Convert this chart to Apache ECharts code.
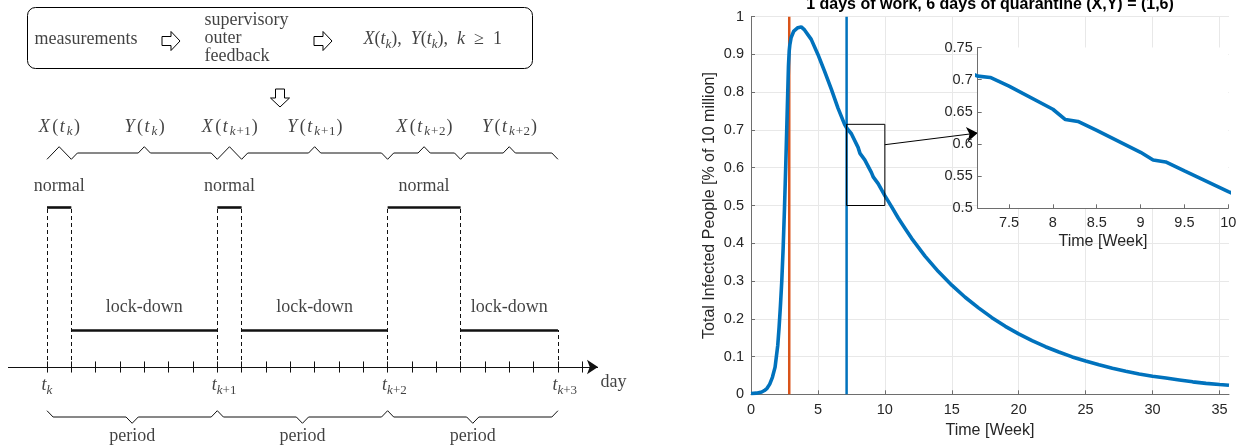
<!DOCTYPE html>
<html><head><meta charset="utf-8">
<script src="https://cdn.jsdelivr.net/npm/echarts@6/dist/echarts.min.js"></script>
<style>html,body{margin:0;padding:0;background:#fff}#c{width:1238px;height:447px}</style>
</head><body><div id="c"></div>
<script>
// ================= DATA =================
// Right panel: simulated total infected people
const WEEKS = [0,0.4,0.8,1.0,1.2,1.4,1.6,1.8,2.0,2.1,2.2,2.3,2.4,2.5,2.6,2.7,2.8,2.857,2.9,3.0,3.2,3.5,3.75,4.0,4.5,5.0,5.5,6.0,6.5,7.0,
  7.143,7.286,7.5,8.0,8.143,8.286,8.5,9.0,9.143,9.286,9.5,10.0,10.5,11,11.5,12,13,14,15,16,17,18,19,20,21,22,23,24,25,26,27,28,29,30,31,32,33,34,35,35.714];
const INFECTED = [0.002,0.003,0.006,0.010,0.016,0.027,0.045,0.072,0.130,0.178,0.235,0.300,0.385,0.490,0.610,0.740,0.870,0.910,0.925,0.945,0.962,0.971,0.973,0.965,0.940,0.900,0.855,0.808,0.758,0.714,
  0.7055,0.7034,0.690,0.654,0.638,0.635,0.621,0.587,0.575,0.572,0.558,0.526,0.497,0.467,0.440,0.413,0.366,0.325,0.289,0.257,0.229,0.203,0.180,0.160,0.142,0.126,0.112,0.099,0.088,0.078,0.069,0.061,0.054,0.048,0.043,0.038,0.033,0.029,0.026,0.024];
const POLICY_START_WEEK = 2.857;   // orange line
const ZOOM_START_WEEK = 7.143;     // blue line
const X_TICKS = [0,5,10,15,20,25,30,35];
const INSET_X_TICKS = [7.5,8,8.5,9,9.5,10];
const ZOOM_BOX_X = [7.143,10];
const ZOOM_BOX_Y = [0.5,0.715];
const ARROW_FROM = [10,0.661];
const ARROW_TO = [16.94,0.692];
const TITLE = '1 days of work, 6 days of quarantine (X,Y) = (1,6)';

// Left panel: schedule diagram (days)
const PHASE_NAMES = ['normal','lock-down','normal','lock-down','normal','lock-down'];
const PHASE_START = [0,1,7,8,14,17];
const PHASE_END = [1,7,8,14,17,21];
const PHASE_SYMBOLS = ['X(t_k)','Y(t_k)','X(t_{k+1})','Y(t_{k+1})','X(t_{k+2})','Y(t_{k+2})'];
const PERIOD_START = [0,7,14];
const PERIOD_END = [7,14,21];
const PERIOD_LABEL = 'period';
const T_DAYS = [0,7,14,21];
const T_LABELS = ['t_k','t_{k+1}','t_{k+2}','t_{k+3}'];
const DAY_TICKS = [0,1,2,3,4,5,6,7,8,9,10,11,12,13,14,15,16,17,18,19,20,21,22];
const AXIS_LABEL = 'day';
const BOX_TEXTS = ['measurements','supervisory\nouter\nfeedback','X(t_k),\u2002Y(t_k),\u2002k\u2002≥\u20021'];

// ================= DRAWING =================
const SERIF = '"Liberation Serif","Times New Roman",serif';
const SANS = '"Liberation Sans",Arial,Helvetica,sans-serif';
const INK = '#111';
const base = {fontFamily:SERIF,color:INK};
const RICH = {
  it:Object.assign({fontStyle:'italic',fontSize:18,lineHeight:23,verticalAlign:'middle'},base),
  rm:Object.assign({fontSize:18,lineHeight:23,verticalAlign:'middle'},base),
  si:Object.assign({fontStyle:'italic',fontSize:13,lineHeight:13,verticalAlign:'bottom'},base),
  sr:Object.assign({fontSize:13,lineHeight:13,verticalAlign:'bottom'},base),
  itp:Object.assign({fontStyle:'italic',fontSize:18,lineHeight:23,verticalAlign:'middle',padding:[0,2,0,1]},base),
  rmp:Object.assign({fontSize:18,lineHeight:23,verticalAlign:'middle',padding:[0,0.5,0,0.5]},base),
  sip:Object.assign({fontStyle:'italic',fontSize:13,lineHeight:13,verticalAlign:'bottom',padding:[0,1,0,0]},base),
  srp:Object.assign({fontSize:13,lineHeight:13,verticalAlign:'bottom',padding:[0,0.5,0,0]},base),
  w:Object.assign({fontSize:18,lineHeight:18},base)
};
function mathRichP(s,padded){
  let out='',i=0;
  const p=padded?'p':'';
  const wrap=(st,t)=>'{'+st+p+'|'+t+'}';
  while(i<s.length){
    const ch=s[i];
    if(ch==='_'){
      let sub;
      if(s[i+1]==='{'){const j=s.indexOf('}',i);sub=s.slice(i+2,j);i=j+1;}
      else{sub=s[i+1];i+=2;}
      for(const c of sub) out+=wrap(/[a-z]/i.test(c)?'si':'sr',c);
    } else { out+=wrap(/[a-z]/i.test(ch)?'it':'rm',ch); i++; }
  }
  return out;
}
const mathRich = s => mathRichP(s,false);
const mathRichWide = s => mathRichP(s,true);
function plainRich(s){ return s.split('\n').map(l=>'{w|'+l+'}').join('\n'); }

// diagram coordinate system: day -> px 47+24.33*d ; level v -> px 367-37*v
const PX_DAY=24.33, X0=47, PX_V=37, Y0=367;
const NORMAL_V=(Y0-207.5)/PX_V, LOCK_V=1.0;
const vOf = py => (Y0-py)/PX_V;
const dOf = px => (px-X0)/PX_DAY;

function brace(d0,d1,b,dir){
  const h=0.17,e=Math.min(0.25,(d1-d0)/4),m=(d0+d1)/2;
  return [[d0,b-dir*h],[d0+e,b],[m-e,b],[m,b+dir*h],[m+e,b],[d1-e,b],[d1,b-dir*h]];
}
function labelSeries(xs,ys,texts,fmt,labelOpt){
  return {type:'scatter',xAxisIndex:0,yAxisIndex:0,symbolSize:1,silent:true,
    itemStyle:{color:'rgba(0,0,0,0)'},
    data:xs.map((x,i)=>[x,ys[i]]),
    label:Object.assign({show:true,position:'inside',formatter:p=>fmt(texts[p.dataIndex]),rich:RICH},labelOpt||{})};
}
const isNormal = n => n==='normal';
const levelOf = i => isNormal(PHASE_NAMES[i])?NORMAL_V:LOCK_V;
const mids = PHASE_START.map((s,i)=>(s+PHASE_END[i])/2);

// dashed boundaries
const dashed=[];
PHASE_NAMES.forEach((n,i)=>{ if(isNormal(n)){ dashed.push({coords:[[PHASE_START[i],0],[PHASE_START[i],NORMAL_V]]}); dashed.push({coords:[[PHASE_END[i],0],[PHASE_END[i],NORMAL_V]]}); }});
const last=PHASE_NAMES.length-1;
dashed.push({coords:[[PHASE_END[last],0],[PHASE_END[last],levelOf(last)]]});

const series=[
  {type:'lines',coordinateSystem:'cartesian2d',xAxisIndex:0,yAxisIndex:0,silent:true,
   data:[{coords:[[dOf(8),0],[dOf(598),0]]}],symbol:['none','arrow'],symbolSize:[7,11],
   lineStyle:{color:INK,width:1,opacity:1}},
  {type:'lines',coordinateSystem:'cartesian2d',xAxisIndex:0,yAxisIndex:0,silent:true,
   data:DAY_TICKS.map(d=>({coords:[[d,-0.15],[d,0.15]]})),lineStyle:{color:INK,width:1,opacity:1}},
  {type:'lines',coordinateSystem:'cartesian2d',xAxisIndex:0,yAxisIndex:0,silent:true,
   data:dashed,lineStyle:{color:INK,width:1,type:[4,3],opacity:1}},
  {type:'lines',coordinateSystem:'cartesian2d',xAxisIndex:0,yAxisIndex:0,silent:true,
   data:PHASE_NAMES.map((n,i)=>({coords:[[PHASE_START[i],levelOf(i)],[PHASE_END[i],levelOf(i)]]})),
   lineStyle:{color:INK,width:2.6,opacity:1}},
  {type:'lines',coordinateSystem:'cartesian2d',xAxisIndex:0,yAxisIndex:0,silent:true,polyline:true,
   data:PHASE_START.map((s,i)=>({coords:brace(s,PHASE_END[i],vOf(153),1)}))
     .concat(PERIOD_START.map((s,i)=>({coords:brace(s,PERIOD_END[i],vOf(417),-1)}))),
   lineStyle:{color:INK,width:1,opacity:1}},
  labelSeries(mids,PHASE_NAMES.map(n=>isNormal(n)?vOf(186):vOf(307)),PHASE_NAMES,plainRich),
  labelSeries(mids,mids.map(()=>vOf(127)),PHASE_SYMBOLS,mathRichWide),
  labelSeries(T_DAYS,T_DAYS.map(()=>vOf(386)),T_LABELS,mathRich,{position:[-5,0],align:'left',verticalAlign:'middle'}),
  labelSeries(PERIOD_START.map((s,i)=>(s+PERIOD_END[i])/2),PERIOD_START.map(()=>vOf(436)),PERIOD_START.map(()=>PERIOD_LABEL),plainRich),
  labelSeries([dOf(601)],[vOf(383)],[AXIS_LABEL],plainRich,{position:[0,0],align:'left',verticalAlign:'middle'}),
  labelSeries([dOf(35),dOf(205)],[vOf(40),vOf(39)],BOX_TEXTS.slice(0,2),plainRich,{position:[0,0],align:'left',verticalAlign:'middle'}),
  labelSeries([dOf(364)],[vOf(40)],BOX_TEXTS.slice(2),mathRich,{position:[0,0],align:'left',verticalAlign:'middle'}),

  // ---- right panel ----
  {type:'line',xAxisIndex:1,yAxisIndex:1,silent:true,showSymbol:false,data:[[POLICY_START_WEEK,0],[POLICY_START_WEEK,1]],
   lineStyle:{color:'#D95319',width:2.5},z:3},
  {type:'line',xAxisIndex:1,yAxisIndex:1,silent:true,showSymbol:false,data:[[ZOOM_START_WEEK,0],[ZOOM_START_WEEK,1]],
   lineStyle:{color:'#0072BD',width:2.5},z:3},
  {type:'line',xAxisIndex:1,yAxisIndex:1,silent:true,showSymbol:false,data:WEEKS.map((w,i)=>[w,INFECTED[i]]),
   lineStyle:{color:'#0072BD',width:3.6},z:4},
  {type:'line',xAxisIndex:1,yAxisIndex:1,silent:true,showSymbol:false,
   data:[[ZOOM_BOX_X[0],ZOOM_BOX_Y[0]],[ZOOM_BOX_X[1],ZOOM_BOX_Y[0]],[ZOOM_BOX_X[1],ZOOM_BOX_Y[1]],[ZOOM_BOX_X[0],ZOOM_BOX_Y[1]],[ZOOM_BOX_X[0],ZOOM_BOX_Y[0]]],
   lineStyle:{color:'#000',width:1},z:5},
  {type:'lines',coordinateSystem:'cartesian2d',xAxisIndex:1,yAxisIndex:1,silent:true,
   data:[{coords:[ARROW_FROM,ARROW_TO]}],symbol:['none','arrow'],symbolSize:[8,11],
   lineStyle:{color:'#000',width:1,opacity:1},z:6},
  {type:'line',xAxisIndex:2,yAxisIndex:2,silent:true,showSymbol:false,data:WEEKS.map((w,i)=>[w,INFECTED[i]]),
   lineStyle:{color:'#0072BD',width:3.6},z:8}
];

const AX='#6e6e6e', TXT='#262626', GRIDC='#e8e8e8';
const tickLbl={color:TXT,fontSize:14.5,fontFamily:SANS};
const nameSt={color:TXT,fontSize:16,fontFamily:SANS};

const option={
  animation:false,
  backgroundColor:'#fff',
  grid:[
    {left:0,top:0,width:630,height:447,outerBoundsMode:'none',containLabel:false},
    {left:751,top:16.7,width:478,height:377.6,outerBoundsMode:'none',containLabel:false},
    {left:977.7,top:47.5,width:250.6,height:160.8,outerBoundsMode:'none',containLabel:false,show:true,backgroundColor:'#fff',borderWidth:0,z:6}
  ],
  xAxis:[
    {type:'value',gridIndex:0,show:false,min:dOf(0),max:dOf(630)},
    {type:'value',gridIndex:1,min:0,max:35.714,
     axisLine:{show:true,onZero:false,lineStyle:{color:AX}},
     axisTick:{show:true,inside:true,length:4,customValues:X_TICKS,lineStyle:{color:AX}},
     axisLabel:Object.assign({customValues:X_TICKS,margin:8},tickLbl),
     splitLine:{show:true,lineStyle:{color:GRIDC}},
     name:'Time [Week]',nameLocation:'middle',nameGap:28,nameTextStyle:nameSt},
    {type:'value',gridIndex:2,min:ZOOM_START_WEEK,max:10,z:7,
     axisLine:{show:true,onZero:false,lineStyle:{color:AX}},
     axisTick:{show:true,inside:true,length:4,customValues:INSET_X_TICKS,lineStyle:{color:AX}},
     axisLabel:Object.assign({customValues:INSET_X_TICKS,margin:7},tickLbl),
     splitLine:{show:false},
     name:'Time [Week]',nameLocation:'middle',nameGap:25,nameTextStyle:nameSt}
  ],
  yAxis:[
    {type:'value',gridIndex:0,show:false,min:vOf(447),max:vOf(0)},
    {type:'value',gridIndex:1,min:0,max:1,interval:0.1,
     axisLine:{show:true,onZero:false,lineStyle:{color:AX}},
     axisTick:{show:true,inside:true,length:4,lineStyle:{color:AX}},
     axisLabel:Object.assign({margin:7},tickLbl),
     splitLine:{show:true,lineStyle:{color:GRIDC}},
     name:'Total Infected People [% of 10 million]',nameLocation:'middle',nameGap:33,nameTextStyle:nameSt},
    {type:'value',gridIndex:2,min:0.5,max:0.75,interval:0.05,z:7,
     axisLine:{show:true,onZero:false,lineStyle:{color:AX}},
     axisTick:{show:true,inside:true,length:4,lineStyle:{color:AX}},
     axisLabel:Object.assign({margin:5},tickLbl),
     splitLine:{show:false}}
  ],
  graphic:[
    {type:'rect',silent:true,shape:{x:27.5,y:7.5,width:505,height:61,r:8},style:{fill:'none',stroke:'#000',lineWidth:1}},
    {type:'polygon',silent:true,shape:{points:[[162,36.5],[171,36.5],[171,31.5],[180,41],[171,50.5],[171,45.5],[162,45.5]]},style:{fill:'none',stroke:'#000',lineWidth:1}},
    {type:'polygon',silent:true,shape:{points:[[314,36.5],[323,36.5],[323,31.5],[332,41],[323,50.5],[323,45.5],[314,45.5]]},style:{fill:'none',stroke:'#000',lineWidth:1}},
    {type:'polygon',silent:true,shape:{points:[[275.5,89],[284.5,89],[284.5,98],[289.5,98],[280,107],[270.5,98],[275.5,98]]},style:{fill:'none',stroke:'#000',lineWidth:1}},
    {type:'text',silent:true,x:990,y:5,z:10,style:{text:TITLE,font:'bold 16px '+SANS,fill:'#000',align:'center',verticalAlign:'middle',textAlign:'center',textVerticalAlign:'middle'}}
  ],
  series:series
};
const chart=echarts.init(document.getElementById('c'),null,{width:1238,height:447});
chart.setOption(option);
</script>
</body></html>
